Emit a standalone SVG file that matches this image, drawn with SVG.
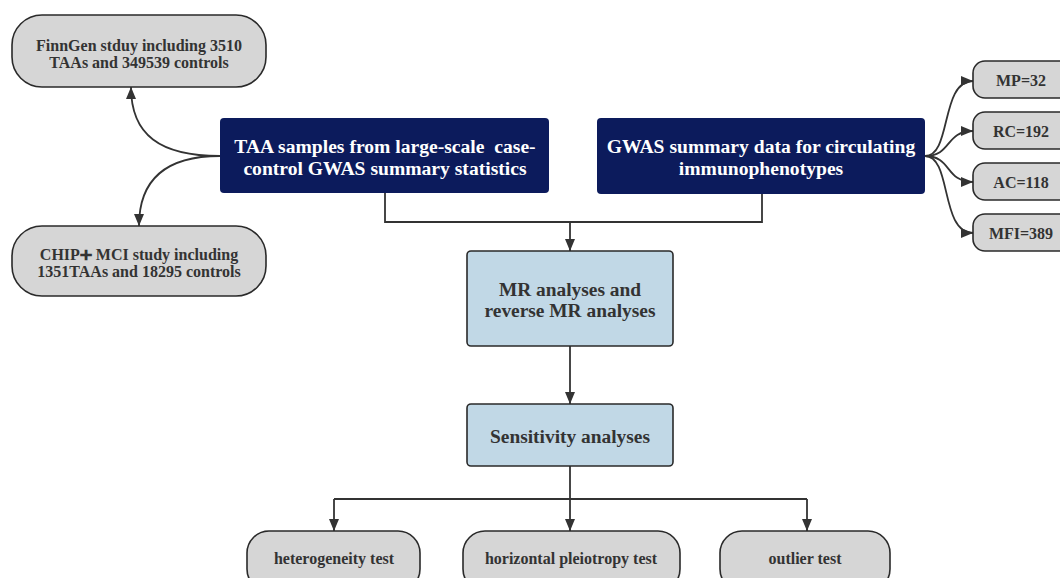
<svg xmlns="http://www.w3.org/2000/svg" width="1060" height="578" viewBox="0 0 1060 578">
<defs>
<marker id="arr" viewBox="0 0 12 10" refX="12" refY="5" markerWidth="12" markerHeight="10" markerUnits="userSpaceOnUse" orient="auto">
<path d="M0,0 L12,5 L0,10 Z" fill="#333"/>
</marker>
</defs>
<style>
.grey{fill:#d6d6d6;stroke:#2a2a2a;stroke-width:1.6}
.navy{fill:#0c1b5c}
.blue{fill:#c1d8e6;stroke:#2a2a2a;stroke-width:1.6}
text{font-family:"Liberation Serif","DejaVu Serif",serif;font-weight:bold;text-anchor:middle;dominant-baseline:central;white-space:pre}
.t15{font-size:16px;fill:#333}
.t18w{font-size:19.6px;fill:#fff}
.t18{font-size:19.4px;fill:#333}
.c{fill:none;stroke:#333;stroke-width:1.8}
</style>
<rect width="1060" height="578" fill="#fff"/>
<g id="connectors">
<path class="c" d="M385,193 V222 H762 V193"/>
<path class="c" d="M570,222 V251" marker-end="url(#arr)"/>
<path class="c" d="M570,346 V404" marker-end="url(#arr)"/>
<path class="c" d="M570,466 V499 M334,499 H807"/>
<path class="c" d="M334,499 V531" marker-end="url(#arr)"/>
<path class="c" d="M570,499 V531" marker-end="url(#arr)"/>
<path class="c" d="M807,499 V531" marker-end="url(#arr)"/>
<path class="c" d="M220,156 C160,156 131,135 131,87" marker-end="url(#arr)"/>
<path class="c" d="M220,156 C165,156 139,180 139,226" marker-end="url(#arr)"/>
<path class="c" d="M925,156 C952,156 940,81 973,81" marker-end="url(#arr)"/>
<path class="c" d="M925,156 C952,156 945,131 973,131" marker-end="url(#arr)"/>
<path class="c" d="M925,156 C952,156 945,182 973,182" marker-end="url(#arr)"/>
<path class="c" d="M925,156 C952,156 940,233 973,233" marker-end="url(#arr)"/>
</g>
<g id="finngen">
<rect class="grey" x="12" y="15" width="254" height="72" rx="30"/>
<text class="t15" x="139" y="45">FinnGen stduy including 3510</text>
<text class="t15" x="139" y="62">TAAs and 349539 controls</text>
</g>
<g id="chip">
<rect class="grey" x="12" y="226" width="254" height="70" rx="30"/>
<text class="t15" x="139" y="254">CHIP<tspan font-family="DejaVu Sans" fill="#333">➕︎</tspan> MCI study including</text>
<text class="t15" x="139" y="271">1351TAAs and 18295 controls</text>
</g>
<g id="taa">
<rect class="navy" x="220" y="118" width="329" height="75" rx="4"/>
<text class="t18w" x="385" y="146">TAA samples from large-scale  case-</text>
<text class="t18w" x="385" y="168">control GWAS summary statistics</text>
</g>
<g id="gwas">
<rect class="navy" x="597" y="118" width="328" height="76" rx="4"/>
<text class="t18w" x="761" y="146">GWAS summary data for circulating</text>
<text class="t18w" x="761" y="168">immunophenotypes</text>
</g>
<g id="mp">
<rect class="grey" x="973" y="61" width="100" height="37" rx="12"/>
<text class="t15" x="1021" y="80">MP=32</text>
</g>
<g id="rc">
<rect class="grey" x="973" y="112" width="100" height="37" rx="12"/>
<text class="t15" x="1021" y="131">RC=192</text>
</g>
<g id="ac">
<rect class="grey" x="973" y="163" width="100" height="37" rx="12"/>
<text class="t15" x="1021" y="182">AC=118</text>
</g>
<g id="mfi">
<rect class="grey" x="973" y="214" width="100" height="37" rx="12"/>
<text class="t15" x="1021" y="233">MFI=389</text>
</g>
<g id="mr">
<rect class="blue" x="467" y="251" width="206" height="95" rx="4"/>
<text class="t18" x="570" y="289">MR analyses and</text>
<text class="t18" x="570" y="310">reverse MR analyses</text>
</g>
<g id="sensitivity">
<rect class="blue" x="467" y="404" width="206" height="62" rx="4"/>
<text class="t18" x="570" y="436">Sensitivity analyses</text>
</g>
<g id="heterogeneity">
<rect class="grey" x="247" y="531" width="173" height="60" rx="22"/>
<text class="t15" x="334" y="558">heterogeneity test</text>
</g>
<g id="pleiotropy">
<rect class="grey" x="463" y="531" width="217" height="60" rx="22"/>
<text class="t15" x="571" y="558">horizontal pleiotropy test</text>
</g>
<g id="outlier">
<rect class="grey" x="720" y="531" width="170" height="60" rx="22"/>
<text class="t15" x="805" y="558">outlier test</text>
</g>
</svg>
